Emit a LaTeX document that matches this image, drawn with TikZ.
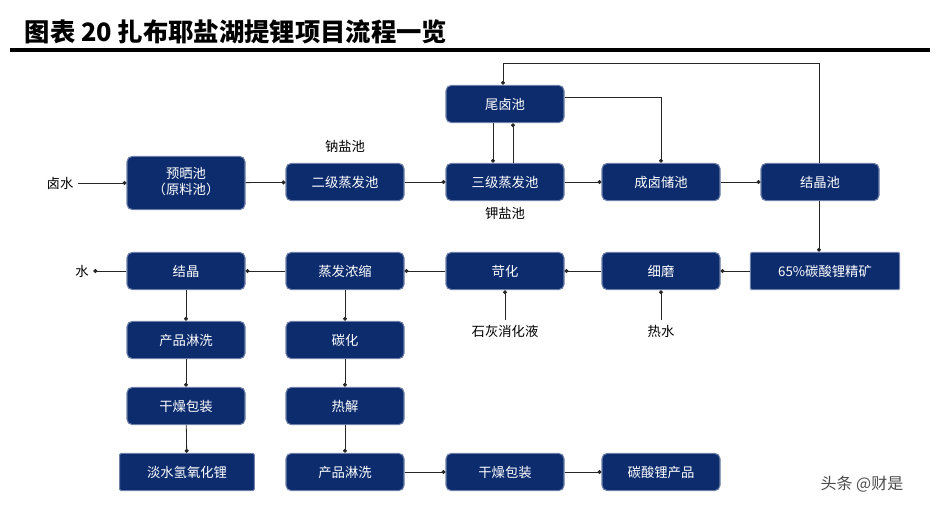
\documentclass[tikz,border=0pt]{standalone}
\usepackage{fontspec}
\newfontfamily\cjk{Noto Sans CJK SC}
\usetikzlibrary{arrows.meta}
\definecolor{bx}{HTML}{0D2C6E}
\begin{document}
\begin{tikzpicture}[x=0.75pt,y=-0.75pt,font=\cjk\normalsize,
 b/.style={draw=bx!60!white,line width=0.8pt,fill=bx,text=white,rounded corners=4pt,minimum width=88.5pt,minimum height=28pt,inner sep=1pt},
 a/.style={-{Circle[length=3pt]},line width=0.6pt,draw=black!85},
 l/.style={font=\cjk\normalsize}]
\useasboundingbox (0,0) rectangle (940,508);
\node[anchor=west,font=\cjk\bfseries\fontsize{19}{22}\selectfont] (title) at (20,32) {图表 20 扎布耶盐湖提锂项目流程一览};
\draw[line width=2.5pt] (10,50) -- (930,50);
\node[b,minimum height=40pt] (p1) at (186,183) {\begin{tabular}{c}预晒池\\（原料池）\end{tabular}};
\node[b] (p2) at (345,182) {二级蒸发池};
\node[b] (p3) at (505,182) {三级蒸发池};
\node[b] (p4) at (661,182) {成卤储池};
\node[b] (p5) at (820,182) {结晶池};
\node[b] (w) at (505,104) {尾卤池};
\node[b,minimum width=112pt,rounded corners=1pt] (k) at (825,271) {65\%碳酸锂精矿};
\node[b] (xm) at (661,271) {细磨};
\node[b] (kh) at (505,271) {苛化};
\node[b] (zf) at (345,271) {蒸发浓缩};
\node[b] (jj) at (186,271) {结晶};
\node[b] (c1) at (186,340) {产品淋洗};
\node[b] (c2) at (186,406) {干燥包装};
\node[b,minimum width=101pt,rounded corners=1pt] (c3) at (187,472) {淡水氢氧化锂};
\node[b] (d1) at (345,340) {碳化};
\node[b] (d2) at (345,406) {热解};
\node[b] (d3) at (345,472) {产品淋洗};
\node[b] (d4) at (505,472) {干燥包装};
\node[b] (d5) at (661,472) {碳酸锂产品};
\node[l] (lu) at (60,183) {卤水};
\node[l] (na) at (345,146) {钠盐池};
\node[l] (ka) at (505,213) {钾盐池};
\node[l] (sh) at (82,271) {水};
\node[l] (sl) at (505,331) {石灰消化液};
\node[l] (rs) at (661,331) {热水};
\node[font=\cjk\large,text=black!70] (wm) at (862,484) {头条 @财是};
\draw[a] (lu) -- (p1);
\draw[a] (p1) -- (p2);
\draw[a] (p2) -- (p3);
\draw[a] (p3) -- (p4);
\draw[a] (p4) -- (p5);
\draw[a] ([xshift=-9pt]w.south) -- ([xshift=-9pt]p3.north);
\draw[a] ([xshift=6pt]p3.north) -- ([xshift=6pt]w.south);
\draw[a] (w.east |- 0,97) -| (p4.north);
\draw[a] ([xshift=-0.75pt]p5.north) |- (503,63) -- ([xshift=-1.5pt]w.north);
\draw[a] ([xshift=-0.75pt]p5.south) -- ([xshift=-4.5pt]k.north);
\draw[a] (k) -- (xm);
\draw[a] (xm) -- (kh);
\draw[a] (kh) -- (zf);
\draw[a] (zf) -- (jj);
\draw[a] (jj) -- (sh);
\draw[a] (sl) -- (kh);
\draw[a] (rs) -- (xm);
\draw[a] (jj) -- (c1);
\draw[a] (c1) -- (c2);
\draw[a] (c2) -- (c3);
\draw[a] (zf) -- (d1);
\draw[a] (d1) -- (d2);
\draw[a] (d2) -- (d3);
\draw[a] (d3) -- (d4);
\draw[a] (d4) -- (d5);
\end{tikzpicture}
\end{document}
